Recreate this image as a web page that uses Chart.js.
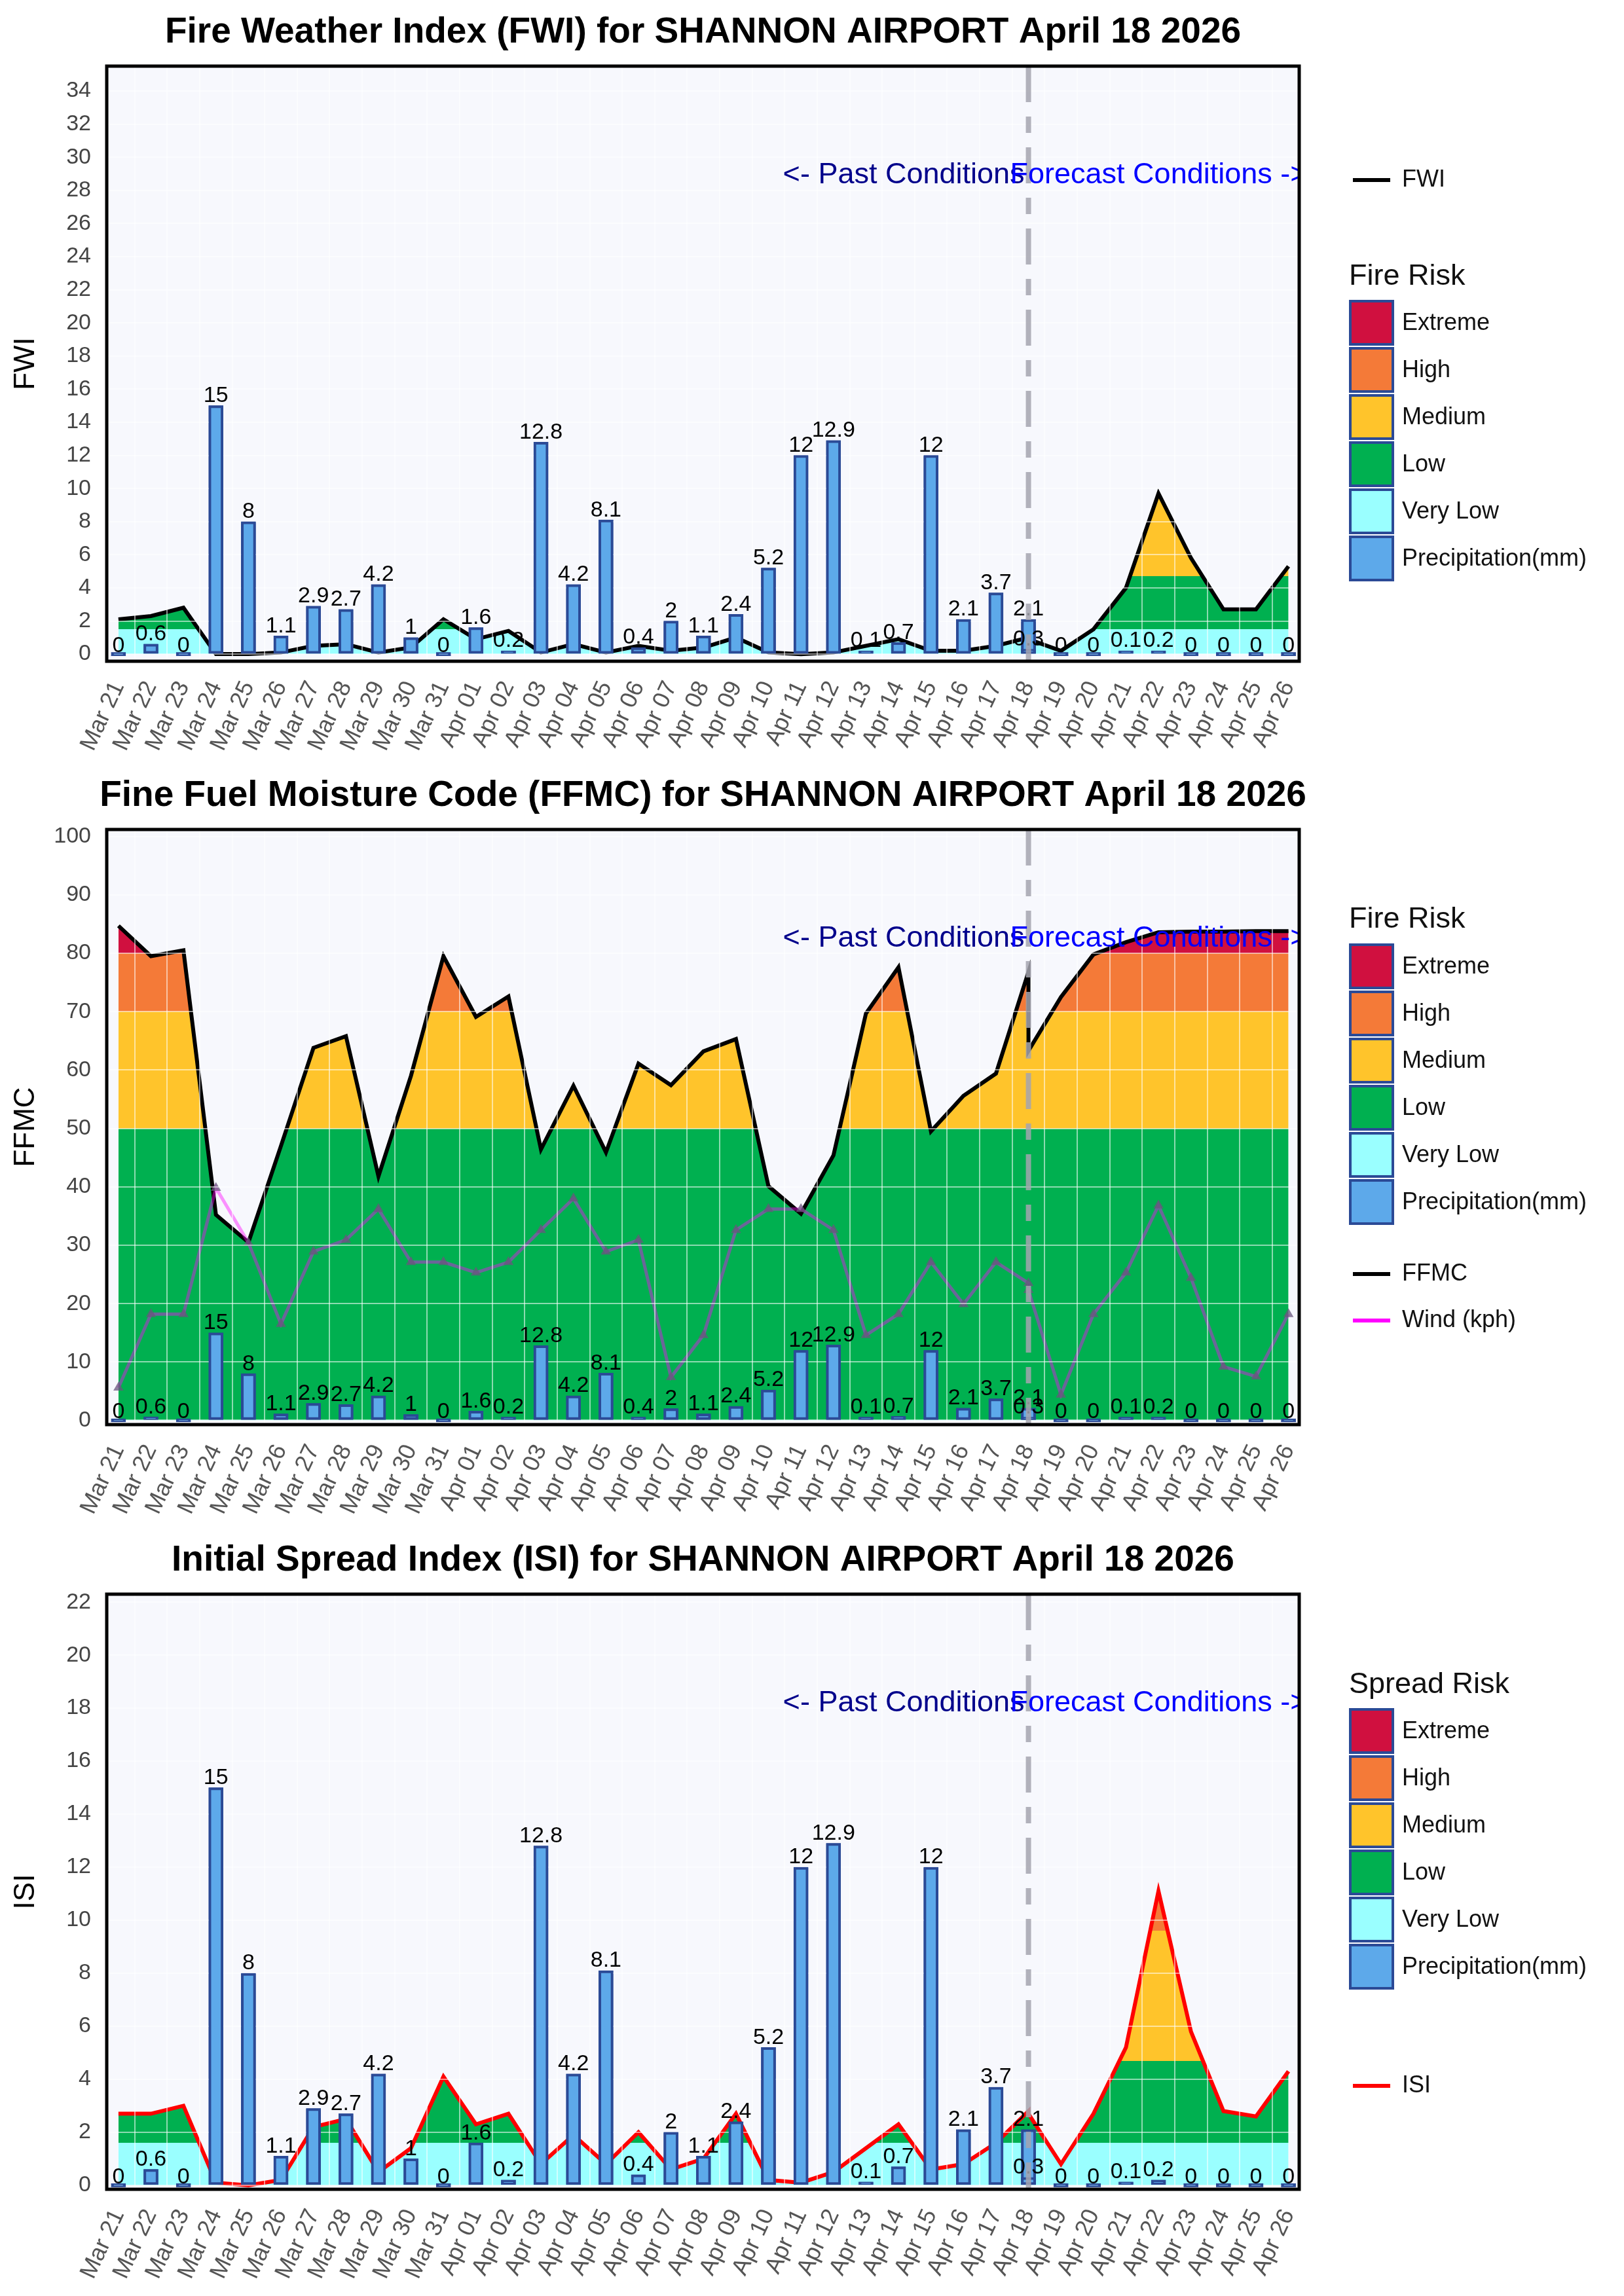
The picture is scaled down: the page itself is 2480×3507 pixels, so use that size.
<!DOCTYPE html>
<html>
<head>
<meta charset="utf-8">
<script src="https://cdn.jsdelivr.net/npm/chart.js@4.4.1/dist/chart.umd.min.js"></script>
<style>
  body { margin: 0; background: #fff; }
  .panel { position: absolute; left: 0; width: 2480px; height: 1169px; }
</style>
</head>
<body>
<div class="panel" style="top:0px"><canvas id="fwiChart" width="2480" height="1169"></canvas></div>
<div class="panel" style="top:1166px"><canvas id="ffmcChart" width="2480" height="1169"></canvas></div>
<div class="panel" style="top:2334px"><canvas id="isiChart" width="2480" height="1169"></canvas></div>
<script>
// dates on the x axis, past data runs Mar 21 .. Apr 18, forecast Apr 18 .. Apr 26
const dates = ['Mar 21', 'Mar 22', 'Mar 23', 'Mar 24', 'Mar 25', 'Mar 26', 'Mar 27', 'Mar 28', 'Mar 29', 'Mar 30', 'Mar 31',
    'Apr 01', 'Apr 02', 'Apr 03', 'Apr 04', 'Apr 05', 'Apr 06', 'Apr 07', 'Apr 08', 'Apr 09', 'Apr 10', 'Apr 11', 'Apr 12',
    'Apr 13', 'Apr 14', 'Apr 15', 'Apr 16', 'Apr 17', 'Apr 18', 'Apr 19', 'Apr 20', 'Apr 21', 'Apr 22', 'Apr 23', 'Apr 24',
    'Apr 25', 'Apr 26'];
const PAST_END = 28; // index of Apr 18

const precipPast = [0, 0.6, 0, 15, 8, 1.1, 2.9, 2.7, 4.2, 1, 0, 1.6, 0.2, 12.8, 4.2, 8.1, 0.4, 2, 1.1, 2.4, 5.2, 12, 12.9, 0.1, 0.7, 12, 2.1, 3.7, 2.1];
const precipFcst = [0.3, 0, 0, 0.1, 0.2, 0, 0, 0, 0];

const fwiPast = [2.1, 2.3, 2.8, 0, 0, 0.1, 0.5, 0.6, 0.1, 0.4, 2.1, 0.9, 1.4, 0.1, 0.6, 0.1, 0.5, 0.2, 0.4, 1.0, 0.1, 0, 0.1, 0.5, 0.9, 0.2, 0.2, 0.5, 1.0];
const fwiFcst = [0.9, 0.2, 1.5, 4.0, 9.7, 5.8, 2.7, 2.7, 5.3];

const ffmcPast = [84.7, 79.5, 80.5, 35.2, 30.5, 47, 63.8, 65.8, 41.8, 59, 79.5, 69.1, 72.6, 46.4, 57.3, 45.9, 61.1, 57.4, 63.2, 65.3, 40.1, 35.4, 45.4, 69.7, 77.6, 49.5, 55.6, 59.4, 76.8];
const ffmcFcst = [63.3, 72.5, 79.8, 81.9, 83.6, 83.7, 83.7, 83.8, 83.8];

const windPast = [5.6, 18.2, 18.2, 39.8, 30.4, 16.5, 28.9, 30.9, 36.2, 27.1, 27.1, 25.3, 27.1, 32.6, 38, 28.9, 30.9, 7.4, 14.6, 32.6, 36.2, 36.2, 32.6, 14.6, 18.2, 27.1, 19.9, 27.1, 23.5];
const windFcst = [22.3, 4.4, 18.2, 25.3, 36.8, 24.4, 9.2, 7.5, 18.2];

const isiPast = [2.7, 2.7, 3.0, 0.1, 0, 0.2, 2.2, 2.5, 0.5, 1.4, 4.1, 2.3, 2.7, 0.8, 1.9, 0.8, 2.0, 0.6, 1.0, 2.7, 0.2, 0.1, 0.5, 1.4, 2.3, 0.6, 0.8, 1.6, 2.8];
const isiFcst = [2.7, 0.8, 2.7, 5.2, 11.1, 5.8, 2.8, 2.6, 4.3];

// risk class limits: very low | low | medium | high | extreme
const fwiLimits = [1.5, 4.7, 10.5, 18];
const ffmcLimits = [0, 50, 70, 80];
const isiLimits = [1.6, 4.7, 9.6, 16];

const fwiTicks = [0, 2, 4, 6, 8, 10, 12, 14, 16, 18, 20, 22, 24, 26, 28, 30, 32, 34];
const ffmcTicks = [0, 10, 20, 30, 40, 50, 60, 70, 80, 90, 100];
const isiTicks = [0, 2, 4, 6, 8, 10, 12, 14, 16, 18, 20, 22];

const riskNames = ['Extreme', 'High', 'Medium', 'Low', 'Very Low'];
const RISK_COLORS = ['#9AFFFF', '#00B050', '#FFC42B', '#F47A38', '#D0103F']; // very low .. extreme
const PRECIP_FILL = '#5DA9EA';
const PRECIP_EDGE = '#2B4A96';
const FONT = '"Liberation Sans", Arial, sans-serif';

Chart.defaults.font.family = FONT;

// horizontal band fill under an index line
function bandFill(limits) {
    return (c) => {
        const chart = c.chart;
        const a = chart.chartArea;
        if (!a) return 'rgba(0,0,0,0)';
        const y = chart.scales.y;
        const h = a.bottom - a.top;
        const g = chart.ctx.createLinearGradient(0, a.bottom, 0, a.top);
        const pos = v => Math.min(1, Math.max(0, (a.bottom - y.getPixelForValue(v)) / h));
        let from = 0;
        RISK_COLORS.forEach((col, i) => {
            const to = i < limits.length ? pos(limits[i]) : 1;
            g.addColorStop(from, col);
            g.addColorStop(to, col);
            from = to;
        });
        return g;
    };
}

const decor = {
    id: 'decor',
    beforeDraw(chart) {
        const { ctx, chartArea: a } = chart;
        ctx.save();
        ctx.fillStyle = '#fff';
        ctx.fillRect(0, 0, chart.width, chart.height);
        ctx.fillStyle = '#F7F8FD';
        ctx.fillRect(a.left, a.top, a.right - a.left, a.bottom - a.top);
        ctx.restore();
    },
    afterDraw(chart, args, o) {
        const { ctx, chartArea: a, scales } = chart;
        const meta = chart.getDatasetMeta(0);
        const bars = chart.data.datasets[0].data;

        // bars again above the grid
        ctx.save();
        ctx.beginPath();
        ctx.rect(a.left, a.top, a.right - a.left, a.bottom - a.top);
        ctx.clip();
        meta.data.forEach(el => el.draw(ctx));
        ctx.restore();

        // precipitation labels
        ctx.save();
        ctx.font = '34px ' + FONT;
        ctx.fillStyle = '#000';
        ctx.textAlign = 'center';
        ctx.textBaseline = 'bottom';
        meta.data.forEach((el, i) => ctx.fillText(String(bars[i].y), el.x, el.y + 2));
        ctx.restore();

        // past / forecast divider
        const xd = scales.x.getPixelForValue(PAST_END);
        ctx.save();
        ctx.strokeStyle = 'rgba(165,165,175,0.85)';
        ctx.lineWidth = 8;
        ctx.setLineDash([55, 22, 25, 22]);
        ctx.beginPath();
        ctx.moveTo(xd, a.top);
        ctx.lineTo(xd, a.bottom);
        ctx.stroke();
        ctx.restore();

        const ty = a.top + 0.183 * (a.bottom - a.top);
        ctx.save();
        ctx.beginPath();
        ctx.rect(a.left, a.top, a.right - a.left, a.bottom - a.top);
        ctx.clip();
        ctx.font = '45px ' + FONT;
        ctx.textBaseline = 'middle';
        ctx.textAlign = 'right';
        ctx.fillStyle = '#00008B';
        ctx.fillText('<- Past Conditions', xd - 6, ty);
        ctx.textAlign = 'left';
        ctx.fillStyle = '#0000FF';
        ctx.fillText('Forecast Conditions ->', xd - 28, ty);
        ctx.restore();

        // frame
        ctx.save();
        ctx.strokeStyle = '#000';
        ctx.lineWidth = 5;
        ctx.strokeRect(a.left, a.top, a.right - a.left, a.bottom - a.top);
        ctx.restore();

        // title + y title
        ctx.save();
        ctx.fillStyle = '#000';
        ctx.font = 'bold 55px ' + FONT;
        ctx.textAlign = 'center';
        ctx.textBaseline = 'middle';
        ctx.fillText(o.title, (a.left + a.right) / 2, 50);
        ctx.font = '44px ' + FONT;
        ctx.translate(40, (a.top + a.bottom) / 2);
        ctx.rotate(-Math.PI / 2);
        ctx.fillText(o.yTitle, 0, 0);
        ctx.restore();

        // legend
        ctx.save();
        ctx.textBaseline = 'middle';
        ctx.textAlign = 'left';
        ctx.fillStyle = '#111';
        o.lines.forEach(l => {
            ctx.strokeStyle = l.color;
            ctx.lineWidth = 6;
            ctx.beginPath();
            ctx.moveTo(2066, l.y);
            ctx.lineTo(2123, l.y);
            ctx.stroke();
            ctx.font = '36px ' + FONT;
            ctx.fillText(l.label, 2141, l.y);
        });
        ctx.font = '45px ' + FONT;
        ctx.fillText(o.riskTitle, 2060, o.riskY);
        const boxes = riskNames.map((n, i) => [n, RISK_COLORS[4 - i]]).concat([['Precipitation(mm)', PRECIP_FILL]]);
        ctx.font = '36px ' + FONT;
        boxes.forEach(([name, col], i) => {
            const y = o.boxTop + i * 72;
            ctx.fillStyle = col;
            ctx.fillRect(2060, y, 69, 70);
            ctx.strokeStyle = PRECIP_EDGE;
            ctx.lineWidth = 4;
            ctx.strokeRect(2062, y + 2, 65, 66);
            ctx.fillStyle = '#111';
            ctx.fillText(name, 2141, y + 36);
        });
        ctx.restore();
    }
};

function makeChart(id, c) {
    const pts = (past, fcst) => past.map((v, i) => ({ x: i, y: v }))
        .concat(fcst.map((v, i) => ({ x: PAST_END + i, y: v })));
    const grid = { color: 'rgba(255,255,255,0.55)', lineWidth: 2, z: 1, drawTicks: false };

    const datasets = [{
        type: 'bar',
        label: 'Precipitation(mm)',
        data: pts(precipPast, precipFcst),
        backgroundColor: PRECIP_FILL,
        borderColor: PRECIP_EDGE,
        borderWidth: 4,
        borderSkipped: false,
        barThickness: 22,
        minBarLength: 5,
        grouped: false,
        order: 0
    }, {
        type: 'line',
        label: c.name,
        data: pts(c.past, c.fcst),
        borderColor: c.color,
        borderWidth: 6,
        pointRadius: 0,
        tension: 0,
        fill: 'origin',
        backgroundColor: bandFill(c.limits),
        order: 3
    }];
    if (c.wind) {
        datasets.push({
            type: 'line',
            label: 'Wind (kph)',
            data: pts(windPast, windFcst),
            borderColor: 'rgba(255,0,255,0.42)',
            borderWidth: 5,
            pointStyle: 'triangle',
            pointRadius: 9,
            pointBorderWidth: 0,
            pointBackgroundColor: 'rgba(105,85,125,0.75)',
            fill: false,
            order: 1
        });
    }

    return new Chart(document.getElementById(id), {
        type: 'bar',
        data: { datasets },
        plugins: [decor],
        options: {
            responsive: false,
            animation: false,
            devicePixelRatio: 1,
            layout: { padding: { left: 0, right: 496, top: 101, bottom: 9 } },
            plugins: {
                legend: { display: false },
                tooltip: { enabled: false },
                decor: c.decor
            },
            scales: {
                x: {
                    type: 'linear',
                    min: -0.36,
                    max: 36.33,
                    offset: false,
                    afterBuildTicks: s => { s.ticks = dates.map((d, i) => ({ value: i })); },
                    afterFit: s => { s.height = 150; },
                    ticks: {
                        autoSkip: false, minRotation: 65, maxRotation: 65, padding: 24,
                        color: '#555', font: { size: 36 },
                        callback: (v, i) => dates[i]
                    },
                    grid,
                    border: { display: false }
                },
                y: {
                    min: c.min,
                    max: c.max,
                    afterBuildTicks: s => { s.ticks = c.ticks.map(v => ({ value: v })); },
                    afterFit: s => { s.width = 163; },
                    ticks: { padding: 24, color: '#444', font: { size: 34 } },
                    grid,
                    border: { display: false }
                }
            }
        }
    });
}

makeChart('fwiChart', {
    name: 'FWI', past: fwiPast, fcst: fwiFcst, color: '#000', limits: fwiLimits,
    min: -0.43, max: 35.5, ticks: fwiTicks,
    decor: {
        title: 'Fire Weather Index (FWI) for SHANNON AIRPORT April 18 2026', yTitle: 'FWI',
        lines: [{ label: 'FWI', color: '#000', y: 275 }],
        riskTitle: 'Fire Risk', riskY: 423, boxTop: 458
    }
});

makeChart('ffmcChart', {
    name: 'FFMC', past: ffmcPast, fcst: ffmcFcst, color: '#000', limits: ffmcLimits, wind: true,
    min: -0.73, max: 101.2, ticks: ffmcTicks,
    decor: {
        title: 'Fine Fuel Moisture Code (FFMC) for SHANNON AIRPORT April 18 2026', yTitle: 'FFMC',
        lines: [{ label: 'FFMC', color: '#000', y: 780 }, { label: 'Wind (kph)', color: '#FF00FF', y: 851 }],
        riskTitle: 'Fire Risk', riskY: 239, boxTop: 275
    }
});

makeChart('isiChart', {
    name: 'ISI', past: isiPast, fcst: isiFcst, color: '#FF0000', limits: isiLimits,
    min: -0.15, max: 22.3, ticks: isiTicks,
    decor: {
        title: 'Initial Spread Index (ISI) for SHANNON AIRPORT April 18 2026', yTitle: 'ISI',
        lines: [{ label: 'ISI', color: '#FF0000', y: 852 }],
        riskTitle: 'Spread Risk', riskY: 240, boxTop: 275
    }
});
</script>
</body>
</html>
